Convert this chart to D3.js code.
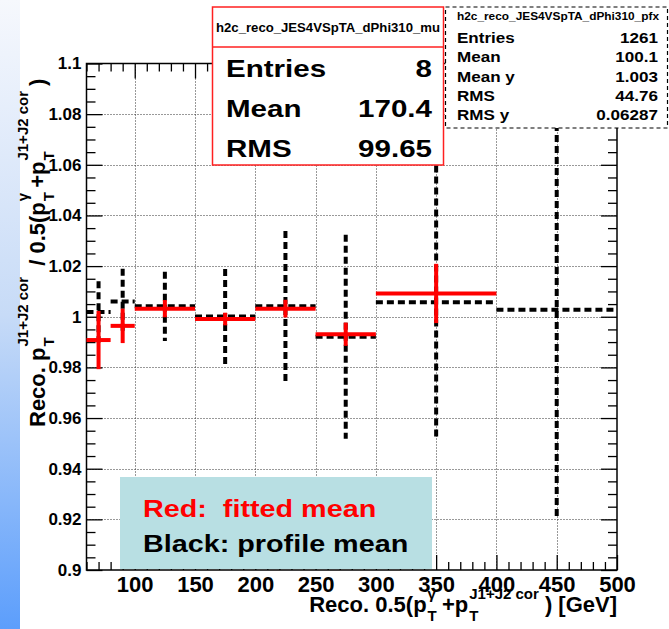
<!DOCTYPE html>
<html>
<head>
<meta charset="utf-8">
<script src="https://cdn.jsdelivr.net/npm/d3@7"></script>
<style>
  body { margin: 0; background: #fff; }
  svg { display: block; font-family: "Liberation Sans", Arial, sans-serif; font-weight: bold; }
</style>
</head>
<body>
<svg id="chart" width="669" height="629"></svg>
<script>
// bins (GeV) and values
const fitBins = [[60, 80], [80, 100], [100, 150], [150, 200], [200, 250], [250, 300], [300, 400]];
const fitMean = [0.9908, 0.9964, 1.0032, 0.9991, 1.0032, 0.9931, 1.0092];
const fitErr = [0.0115, 0.0068, 0.0034, 0.0025, 0.0035, 0.0046, 0.0117];

const profBins = [[60, 80], [80, 100], [100, 150], [150, 200], [200, 250], [250, 300], [300, 400], [400, 500]];
const profMean = [1.0019, 1.006, 1.0041, 1.0001, 1.0041, 0.9921, 1.0057, 1.0028];
const profErr = [0.0121, 0.013, 0.0137, 0.0188, 0.0298, 0.0403, 0.054, 0.082];

const xTicks = [100, 150, 200, 250, 300, 350, 400, 450, 500];
const yTicks = [0.9, 0.92, 0.94, 0.96, 0.98, 1, 1.02, 1.04, 1.06, 1.08, 1.1];

const fitStats = [["Entries", "8"], ["Mean", "170.4"], ["RMS", "99.65"]];
const profStats = [["Entries", "1261"], ["Mean", "100.1"], ["Mean y", "1.003"], ["RMS", "44.76"], ["RMS y", "0.06287"]];

const FRAME = { left: 86.5, right: 617, top: 63.5, bottom: 570 };

const svg = d3.select("#chart");

const x = d3.scaleLinear().domain([60, 500]).range([FRAME.left, FRAME.right]);
const y = d3.scaleLinear().domain([0.9, 1.1]).range([FRAME.bottom, FRAME.top]);

// widen a plain text element, the slide was stretched sideways
function stretch(sel, k) {
  sel.each(function () {
    const w = this.getComputedTextLength();
    d3.select(this).attr("textLength", w * k).attr("lengthAdjust", "spacingAndGlyphs");
  });
  return sel;
}

// blue strip on the left edge of the slide
const grad = svg.append("defs").append("linearGradient")
  .attr("id", "strip").attr("x1", 0).attr("y1", 0).attr("x2", 0).attr("y2", 1);
grad.append("stop").attr("offset", "0%").attr("stop-color", "#f6f8fd");
grad.append("stop").attr("offset", "50%").attr("stop-color", "#c7dbf7");
grad.append("stop").attr("offset", "100%").attr("stop-color", "#5c9efc");
svg.append("rect").attr("x", 0).attr("y", 0).attr("width", 20).attr("height", 629)
  .attr("fill", "url(#strip)");

// grid
const grid = svg.append("g").attr("stroke", "#000").attr("stroke-width", 1)
  .attr("stroke-dasharray", "1,2").attr("opacity", 0.8);
grid.selectAll("line.gx")
  .data(xTicks.filter((d) => d < 500))
  .join("line")
  .attr("x1", (d) => Math.round(x(d)) + 0.5).attr("x2", (d) => Math.round(x(d)) + 0.5)
  .attr("y1", FRAME.top).attr("y2", FRAME.bottom);
grid.selectAll("line.gy")
  .data(yTicks.filter((d) => d > 0.9 && d < 1.1))
  .join("line")
  .attr("y1", (d) => Math.round(y(d)) + 0.5).attr("y2", (d) => Math.round(y(d)) + 0.5)
  .attr("x1", FRAME.left).attr("x2", FRAME.right);

// axes: ticks inside the frame on all four sides
const xMinor = d3.range(60, 501, 10).filter((d) => !xTicks.includes(d));
const yMinor = d3.range(0.9, 1.1001, 0.005).map((d) => +d.toFixed(3))
  .filter((d) => !yTicks.some((t) => Math.abs(t - d) < 1e-6));

function axisGroup(axis, tx, ty) {
  const g = svg.append("g").attr("transform", `translate(${tx},${ty})`).call(axis);
  g.select(".domain").remove();
  g.selectAll("line").attr("stroke", "#000").attr("stroke-width", 1.3);
  return g;
}

const xb = axisGroup(d3.axisBottom(x).tickValues(xTicks).tickSize(-15).tickPadding(6)
  .tickFormat(d3.format("d")), 0, FRAME.bottom);
xb.selectAll("text").attr("font-size", 22).attr("font-family", "Liberation Sans").attr("fill", "#000");
axisGroup(d3.axisBottom(x).tickValues(xMinor).tickSize(-8).tickFormat(""), 0, FRAME.bottom);
axisGroup(d3.axisTop(x).tickValues(xTicks).tickSize(-15).tickFormat(""), 0, FRAME.top);
axisGroup(d3.axisTop(x).tickValues(xMinor).tickSize(-8).tickFormat(""), 0, FRAME.top);

const yl = axisGroup(d3.axisLeft(y).tickValues(yTicks).tickSize(-16).tickPadding(5)
  .tickFormat((d) => String(+d.toFixed(2))), FRAME.left, 0);
yl.selectAll("text").attr("font-size", 17).attr("font-family", "Liberation Sans").attr("fill", "#000");
axisGroup(d3.axisLeft(y).tickValues(yMinor).tickSize(-9).tickFormat(""), FRAME.left, 0);
axisGroup(d3.axisRight(y).tickValues(yTicks).tickSize(-16).tickFormat(""), FRAME.right, 0);
axisGroup(d3.axisRight(y).tickValues(yMinor).tickSize(-9).tickFormat(""), FRAME.right, 0);

svg.append("rect")
  .attr("x", FRAME.left).attr("y", FRAME.top)
  .attr("width", FRAME.right - FRAME.left).attr("height", FRAME.bottom - FRAME.top)
  .attr("fill", "none").attr("stroke", "#000").attr("stroke-width", 1.5);

// profile mean (black, dashed) underneath the fitted mean
const prof = profBins.map((b, i) => ({ lo: b[0], hi: b[1], m: profMean[i], e: profErr[i] }));
const profG = svg.append("g").attr("stroke", "#000").attr("stroke-width", 4)
  .attr("stroke-dasharray", "7,4");
profG.selectAll("line.h").data(prof).join("line")
  .attr("x1", (d) => x(d.lo)).attr("x2", (d) => x(d.hi))
  .attr("y1", (d) => y(d.m)).attr("y2", (d) => y(d.m));
profG.selectAll("line.v").data(prof).join("line")
  .attr("x1", (d) => x((d.lo + d.hi) / 2)).attr("x2", (d) => x((d.lo + d.hi) / 2))
  .attr("y1", (d) => y(d.m + d.e)).attr("y2", (d) => y(d.m - d.e));

const fit = fitBins.map((b, i) => ({ lo: b[0], hi: b[1], m: fitMean[i], e: fitErr[i] }));
const fitG = svg.append("g").attr("stroke", "#ff0000").attr("stroke-width", 4);
fitG.selectAll("line.h").data(fit).join("line")
  .attr("x1", (d) => x(d.lo)).attr("x2", (d) => x(d.hi))
  .attr("y1", (d) => y(d.m)).attr("y2", (d) => y(d.m));
fitG.selectAll("line.v").data(fit).join("line")
  .attr("x1", (d) => x((d.lo + d.hi) / 2)).attr("x2", (d) => x((d.lo + d.hi) / 2))
  .attr("y1", (d) => y(d.m + d.e)).attr("y2", (d) => y(d.m - d.e));

// ROOT-style text with stacked sub/superscripts
function rootText(g, parts, opt) {
  let pendDy = 0, pendDx = 0;
  parts.forEach((p) => {
    if (typeof p === "string") {
      g.append("tspan").attr("font-size", opt.size).attr("dy", pendDy).attr("dx", pendDx).text(p);
      pendDy = 0; pendDx = 0;
      return;
    }
    const sub = g.append("tspan").attr("font-size", opt.small).attr("dx", 1).attr("dy", opt.subDy).text(p.sub);
    const w = sub.node().getComputedTextLength();
    g.append("tspan").attr("font-size", opt.small).attr("dx", -w)
      .attr("dy", -(opt.subDy + opt.supDy)).text(p.sup);
    pendDy = opt.supDy;
    pendDx = opt.gap;
  });
  return g;
}

const yTitle = svg.append("text")
  .attr("transform", "translate(45,427) rotate(-90)")
  .attr("fill", "#000");
rootText(yTitle, ["Reco. p", { sub: "T", sup: "J1+J2 cor" }, " / 0.5(p", { sub: "T", sup: "γ" },
  "+p", { sub: "T", sup: "J1+J2 cor" }, ")"], { size: 22, small: 15, subDy: 9, supDy: 17, gap: 5 });

const xTitle = svg.append("text")
  .attr("x", 617).attr("y", 612)
  .attr("text-anchor", "end").attr("fill", "#000");
rootText(xTitle, ["Reco. 0.5(p", { sub: "T", sup: "γ" }, "+p", { sub: "T", sup: "J1+J2 cor" },
  ") [GeV]"], { size: 22, small: 15, subDy: 9, supDy: 13, gap: 6 });

// legend
svg.append("rect").attr("x", 120).attr("y", 477).attr("width", 312).attr("height", 92)
  .attr("fill", "#b8dfe3");
stretch(svg.append("text").attr("x", 143).attr("y", 517).attr("font-size", 23).attr("fill", "#ff0000")
  .attr("xml:space", "preserve").text("Red:  fitted mean"), 1.25);
stretch(svg.append("text").attr("x", 143).attr("y", 552).attr("font-size", 23).attr("fill", "#000")
  .text("Black: profile mean"), 1.25);

// stat box of the fitted histogram
const box1 = svg.append("g");
box1.append("rect").attr("x", 212.5).attr("y", 7).attr("width", 231).attr("height", 158)
  .attr("fill", "#fff").attr("stroke", "#ff2020").attr("stroke-width", 1.5);
box1.append("line").attr("x1", 212.5).attr("x2", 443.5).attr("y1", 47).attr("y2", 47)
  .attr("stroke", "#ff2020").attr("stroke-width", 1.5);
box1.append("text").attr("x", 328).attr("y", 32).attr("text-anchor", "middle")
  .attr("font-size", 12).attr("textLength", 224).attr("lengthAdjust", "spacingAndGlyphs")
  .text("h2c_reco_JES4VSpTA_dPhi310_mu");
stretch(box1.selectAll("text.k").data(fitStats).join("text")
  .attr("x", 226).attr("y", (d, i) => 77 + i * 40).attr("font-size", 24).text((d) => d[0]), 1.23);
stretch(box1.selectAll("text.v").data(fitStats).join("text")
  .attr("x", 432).attr("y", (d, i) => 77 + i * 40).attr("font-size", 24)
  .attr("text-anchor", "end").text((d) => d[1]), 1.23);

// stat box of the profile
const box2 = svg.append("g");
box2.append("rect").attr("x", 445.5).attr("y", 7).attr("width", 222).attr("height", 121)
  .attr("fill", "#fff").attr("stroke", "#000").attr("stroke-width", 1.2)
  .attr("stroke-dasharray", "4,3");
box2.append("text").attr("x", 457).attr("y", 20).attr("font-size", 10.5)
  .attr("textLength", 202).attr("lengthAdjust", "spacingAndGlyphs")
  .text("h2c_reco_JES4VSpTA_dPhi310_pfx");
stretch(box2.selectAll("text.k").data(profStats).join("text")
  .attr("x", 457).attr("y", (d, i) => 43 + i * 19.3).attr("font-size", 15.5).text((d) => d[0]), 1.1);
stretch(box2.selectAll("text.v").data(profStats).join("text")
  .attr("x", 658).attr("y", (d, i) => 43 + i * 19.3).attr("font-size", 15.5)
  .attr("text-anchor", "end").text((d) => d[1]), 1.1);
</script>
</body>
</html>
